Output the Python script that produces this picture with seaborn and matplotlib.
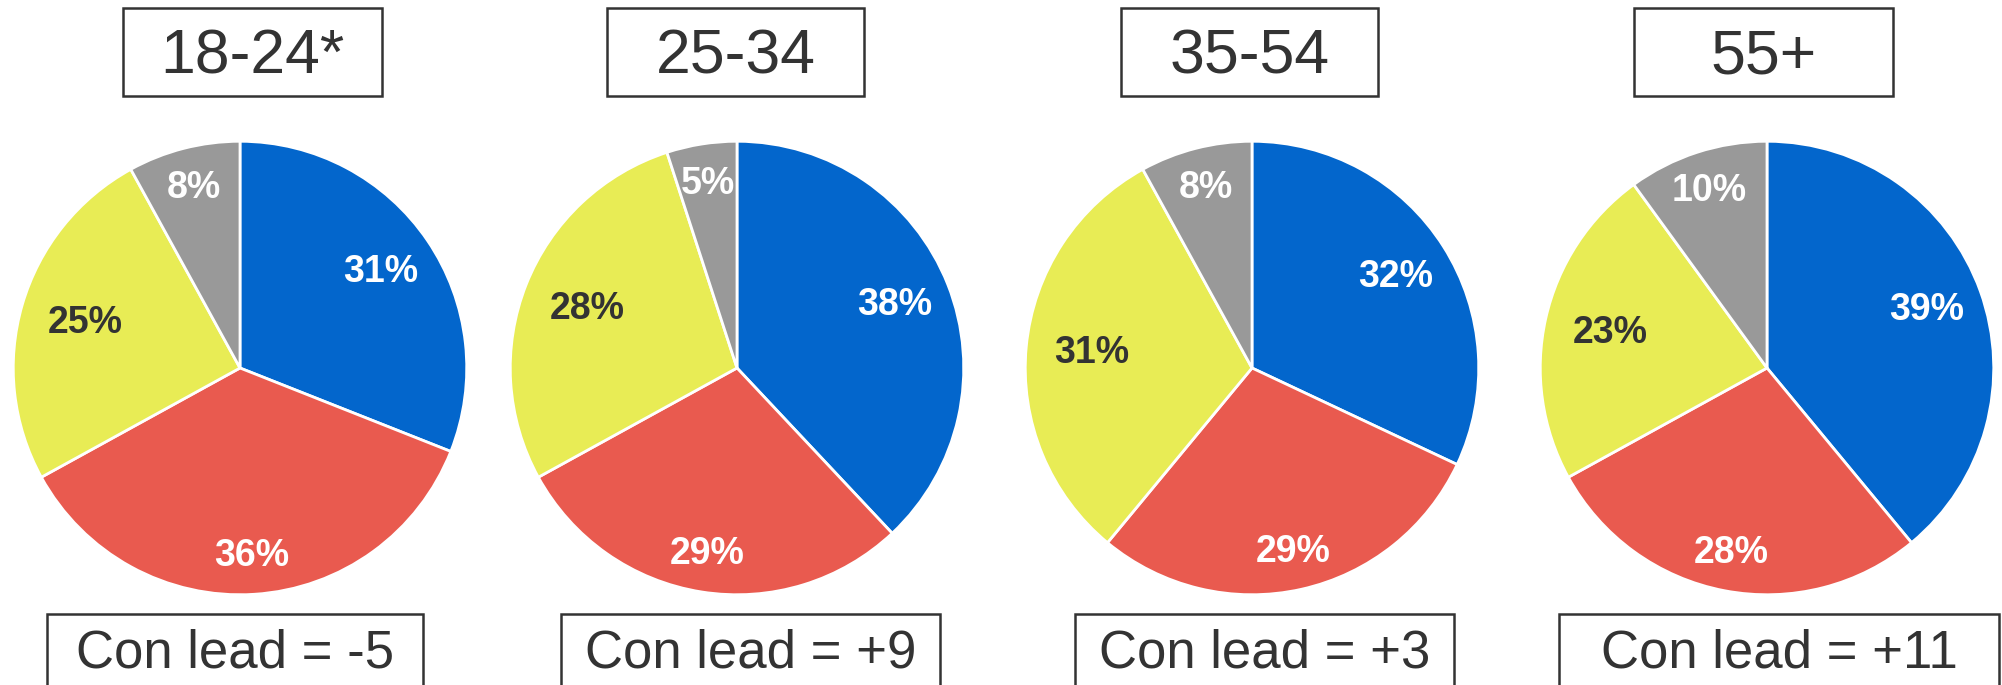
import matplotlib
matplotlib.use("Agg")
import matplotlib.pyplot as plt
from matplotlib.patches import Rectangle
import numpy as np
import seaborn as sns

# data
age_groups = ["18-24*", "25-34", "35-54", "55+"]
parties = ["Con", "Lab", "LD", "Other"]
con   = [31, 38, 32, 39]
lab   = [36, 29, 29, 28]
ld    = [25, 28, 31, 23]
other = [8, 5, 8, 10]
con_lead = ["-5", "+9", "+3", "+11"]

colors = ["#0366CC", "#E95A4F", "#E8EC55", "#999999"]
label_colors = ["white", "white", "#333333", "white"]
label_dist = [0.75, 0.83, 0.71, 0.82]   # radial position of % labels per party

sns.set_theme(style="white")
plt.rcParams["font.family"] = ["Liberation Sans", "DejaVu Sans"]

W, H = 2002, 685
fig = plt.figure(figsize=(W / 100, H / 100), dpi=100)

pie_cx = [240, 737, 1252, 1767]
pie_cy, pie_r = 368, 229
title_boxes = [(123, 382), (607, 864), (1121, 1378), (1634, 1893)]
lead_boxes = [(47, 423), (561, 940), (1075, 1454), (1559, 1999)]


def fx(px):
    return px / W


def fy(py):
    return 1 - py / H


for i, grp in enumerate(age_groups):
    vals = [con[i], lab[i], ld[i], other[i]]
    ax = fig.add_axes([fx(pie_cx[i] - pie_r), fy(pie_cy + pie_r),
                       2 * pie_r / W, 2 * pie_r / H])
    wedges, texts, autotexts = ax.pie(
        vals, colors=colors, startangle=90, counterclock=False,
        autopct=lambda p: f"{p:.0f}%", pctdistance=0.76,
        wedgeprops=dict(edgecolor="white", linewidth=2),
        textprops=dict(fontsize=27, fontweight="bold"))
    for w, t, c, d in zip(wedges, autotexts, label_colors, label_dist):
        ang = np.deg2rad((w.theta1 + w.theta2) / 2)
        t.set_position((d * np.cos(ang), d * np.sin(ang)))
        t.set_color(c)
    ax.set_xlim(-1.01, 1.01)
    ax.set_ylim(-1.01, 1.01)
    ax.set_aspect("equal")
    ax.axis("off")

    # title box
    x0, x1 = title_boxes[i]
    fig.add_artist(Rectangle((fx(x0), fy(96)), fx(x1 - x0), 88 / H,
                             transform=fig.transFigure, fill=False,
                             edgecolor="#333333", linewidth=1.8))
    fig.text(fx((x0 + x1) / 2), fy(73), grp, ha="center", va="baseline",
             fontsize=45, color="#333333")

    # con lead box
    x0, x1 = lead_boxes[i]
    fig.add_artist(Rectangle((fx(x0), fy(700)), fx(x1 - x0), 86 / H,
                             transform=fig.transFigure, fill=False,
                             edgecolor="#333333", linewidth=1.8))
    fig.text(fx((x0 + x1) / 2), fy(668), f"Con lead = {con_lead[i]}",
             ha="center", va="baseline", fontsize=38, color="#333333")

fig.savefig("out.png", dpi=100)
